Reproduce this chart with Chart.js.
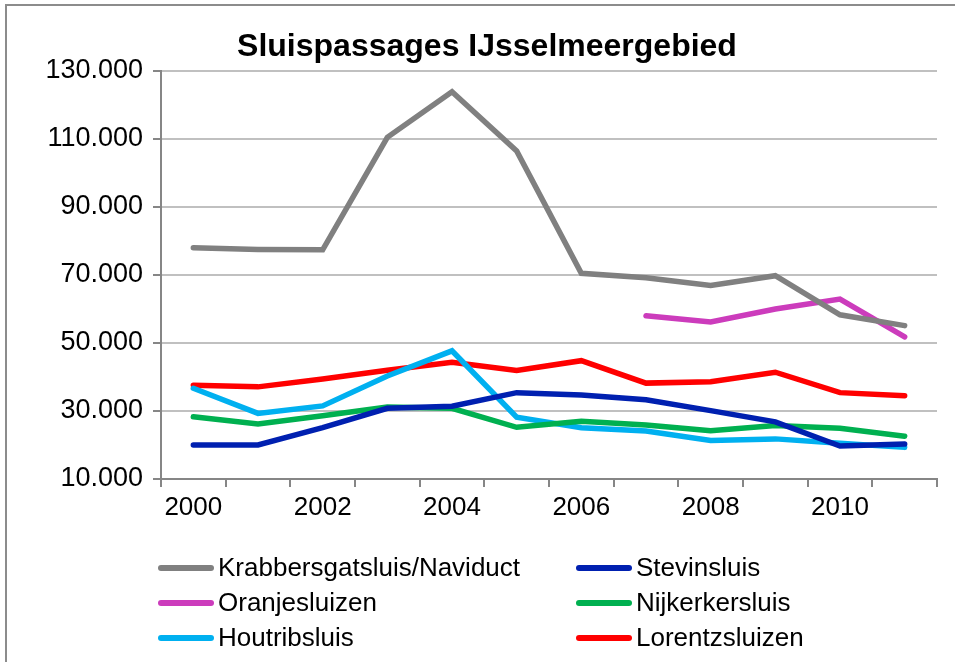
<!DOCTYPE html>
<html>
<head>
<meta charset="utf-8">
<script src="https://cdn.jsdelivr.net/npm/chart.js@4/dist/chart.umd.min.js"></script>
<style>
  html, body { margin: 0; padding: 0; background: #fff; }
  #wrap { width: 955px; height: 662px; }
</style>
</head>
<body>
<div id="wrap"><canvas id="lockChart" width="955" height="662"></canvas></div>
<script>
  const years = ['2000','2001','2002','2003','2004','2005','2006','2007','2008','2009','2010','2011'];

  const krabbersgat = [78000, 77500, 77400, 110500, 123900, 106500, 70500, 69200, 66900, 69800, 58300, 55100];
  const stevin      = [20000, 20000, 25100, 30800, 31400, 35400, 34700, 33300, 30100, 26800, 19700, 20300];
  const oranje      = [null, null, null, null, null, null, null, 58000, 56200, 60000, 62900, 51800];
  const nijkerk     = [28300, 26200, 28600, 31200, 30800, 25200, 27000, 25900, 24200, 25700, 24900, 22600];
  const houtrib     = [36700, 29300, 31500, 40300, 47700, 28200, 25100, 24100, 21300, 21800, 20500, 19300];
  const lorentz     = [37600, 37100, 39400, 42000, 44300, 41900, 44800, 38200, 38600, 41400, 35400, 34500];

  const seriesNames = ['Krabbersgatsluis/Naviduct', 'Stevinsluis', 'Oranjesluizen', 'Nijkerkersluis', 'Houtribsluis', 'Lorentzsluizen'];
  const seriesData = [krabbersgat, stevin, oranje, nijkerk, houtrib, lorentz];
  const seriesColors = ['#808080', '#0020b0', '#cc3cbc', '#00b050', '#00b0f0', '#ff0000'];

  const chartTitle = 'Sluispassages IJsselmeergebied';
  const FONT = '"Liberation Sans", Arial, sans-serif';

  const fmt = v => String(v).replace(/\B(?=(\d{3})+(?!\d))/g, '.');

  // frame, title and the two-column legend are drawn by hand
  const decorations = {
    id: 'decorations',
    beforeDraw(chart) {
      const c = chart.ctx;
      c.save();
      c.strokeStyle = '#8c8c8c';
      c.lineWidth = 2;
      c.beginPath();
      c.moveTo(6, 662);
      c.lineTo(6, 5);
      c.lineTo(955, 5);
      c.stroke();
      c.restore();
    },
    afterDraw(chart) {
      const c = chart.ctx;
      c.save();
      c.fillStyle = '#000';
      c.font = 'bold 32px ' + FONT;
      c.textAlign = 'center';
      c.textBaseline = 'middle';
      c.fillText(chartTitle, 487, 47);

      c.font = '26px ' + FONT;
      c.textAlign = 'left';
      chart.data.datasets.forEach((ds, i) => {
        const col = i % 2, row = Math.floor(i / 2);
        const x = col === 0 ? 161 : 579;
        const y = 568 + row * 35;
        c.strokeStyle = ds.borderColor;
        c.lineWidth = 6;
        c.lineCap = 'round';
        c.beginPath();
        c.moveTo(x, y);
        c.lineTo(x + 50, y);
        c.stroke();
        c.fillStyle = '#000';
        c.fillText(ds.label, x + 57, y + 1);
      });
      c.restore();
    }
  };

  const ctx = document.getElementById('lockChart').getContext('2d');

  const lockChart = new Chart(ctx, {
    type: 'line',
    data: {
      labels: years,
      datasets: seriesNames.map((name, i) => ({
        label: name,
        data: seriesData[i],
        borderColor: seriesColors[i],
        backgroundColor: seriesColors[i],
        borderWidth: 5.5,
        borderCapStyle: 'round',
        borderJoinStyle: 'miter',
        pointRadius: 0,
        tension: 0,
        spanGaps: false
      }))
    },
    options: {
      responsive: false,
      animation: false,
      layout: { padding: { left: 0, right: 18, top: 71, bottom: 0 } },
      plugins: {
        legend: { display: false },
        tooltip: { enabled: false },
        title: { display: false }
      },
      scales: {
        x: {
          offset: true,
          afterFit(scale) { scale.height = 183; },
          grid: {
            offset: true,
            drawOnChartArea: false,
            drawTicks: true,
            tickLength: 8,
            tickColor: '#868686',
            lineWidth: 2
          },
          border: { color: '#868686', width: 2 },
          ticks: {
            autoSkip: false,
            maxRotation: 0,
            padding: 5,
            color: '#000',
            font: { family: FONT, size: 26 },
            callback: function(value, index) {
              return index % 2 === 0 && index < 11 ? this.getLabelForValue(value) : '';
            }
          }
        },
        y: {
          min: 10000,
          max: 130000,
          afterFit(scale) { scale.width = 161; },
          grid: {
            color: '#c0c0c0',
            lineWidth: 2,
            tickLength: 8,
            tickColor: '#868686'
          },
          border: { color: '#868686', width: 2 },
          ticks: {
            stepSize: 20000,
            padding: 10,
            color: '#000',
            font: { family: FONT, size: 27 },
            callback: v => fmt(v)
          }
        }
      }
    },
    plugins: [decorations]
  });
</script>
</body>
</html>
